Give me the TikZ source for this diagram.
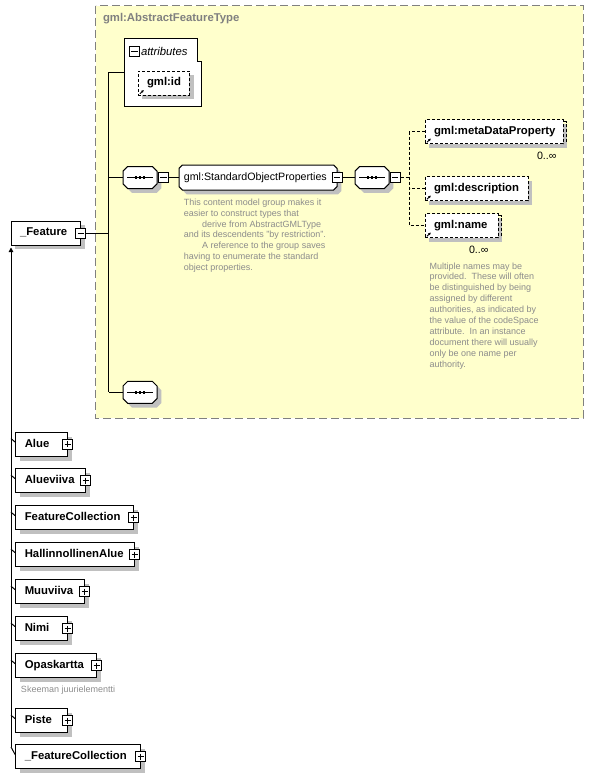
\documentclass[tikz,border=0pt]{standalone}
\usepackage{fontspec}
\setmainfont{Liberation Sans}
\usetikzlibrary{arrows.meta}

\definecolor{panel}{RGB}{255,255,204}
\definecolor{panelline}{RGB}{128,128,128}
\definecolor{notegray}{RGB}{140,140,140}
\definecolor{shadowgray}{RGB}{192,192,192}

\tikzset{
  shadowed/.style={preaction={fill=shadowgray, draw=none, transform canvas={shift={(3.3pt,-3.3pt)}}}},
  dotline/.style={dash pattern=on 2.25pt off 1.5pt},
  elem/.style={draw, fill=white, rectangle, anchor=north west, minimum height=18pt,
    inner xsep=6.75pt, inner ysep=0pt, text height=6.3pt, text depth=1.9pt, align=left,
    font=\bfseries\fontsize{8.5}{10}\selectfont, shadowed},
  optelem/.style={elem, dotline},
  pmbox/.style={draw, fill=white, rectangle, minimum size=7.5pt, inner sep=0pt},
  minusbox/.style={pmbox, path picture={
    \draw ([xshift=1.4pt]path picture bounding box.west) -- ([xshift=-1.4pt]path picture bounding box.east);}},
  plusbox/.style={pmbox, path picture={
    \draw ([xshift=1.4pt]path picture bounding box.west) -- ([xshift=-1.4pt]path picture bounding box.east);
    \draw ([yshift=-1.4pt]path picture bounding box.north) -- ([yshift=1.4pt]path picture bounding box.south);}},
  seqbox/.style={rectangle, minimum width=24.75pt, minimum height=15.75pt, inner sep=0pt},
  grpbox/.style={rectangle, anchor=west, minimum width=117.75pt, minimum height=18pt, inner sep=0pt},
  note/.style={anchor=north west, inner sep=0pt, align=left, text=notegray,
    font=\fontsize{6.75}{8.1}\selectfont},
  refarrow/.style={line width=0.6pt, -{Latex[length=2pt,width=2pt]}},
}

\begin{document}
\begin{tikzpicture}[x=0.75pt,y=-0.75pt,line width=0.75pt,font=\fontsize{8}{9.6}\selectfont]
\useasboundingbox (0,0) rectangle (594,778);

% complex type frame
\draw[panelline, fill=panel, dash pattern=on 6pt off 3pt] (95.5,5.5) rectangle (583,418);
\node[anchor=west, text=panelline, font=\bfseries\fontsize{8.5}{10}\selectfont, inner sep=0pt] (ftitle) at (102.5,19) {gml:AbstractFeatureType};

% attributes
\node[anchor=north west, minimum width=57.4pt, minimum height=50.25pt, inner sep=0pt] (attr) at (124,38.5) {};
\filldraw[fill=white] (attr.south west) |- ([xshift=-3pt]attr.north east) |- ([yshift=-17.25pt]attr.north east) -- (attr.south east) -- cycle;
\node[minusbox] (attr-m) at (134.5,51.5) {};
\node[anchor=west, font=\itshape\fontsize{8.5}{10}\selectfont, inner sep=0pt] (attr-t) at (140.5,51.5) {attributes};
\node[optelem, text width=25.1pt] (gmlid) at (137.5,70.5) {gml:id};
\draw[refarrow] ([shift={(1.8pt,1.2pt)}]gmlid.south west) -- ++(3pt,3pt);

% the element itself
\node[elem, text width=38.6pt] (feature) at (10.5,220.5) {\_Feature};
\node[minusbox] (feature-m) at (feature.east) {};

% content model
\node[seqbox] (seqa) at (140,177.5) {};
\node[seqbox] (seqb) at (372,177.5) {};
\node[seqbox] (seqc) at (140,392.3) {};
\foreach \s in {seqa,seqb,seqc} {
  \filldraw[fill=white, shadowed] ([xshift=3.5pt]\s.north west) -- ([xshift=-3.5pt]\s.north east)
    -- ([yshift=-3.5pt]\s.north east) -- ([yshift=3.5pt]\s.south east) -- ([xshift=-3.5pt]\s.south east)
    -- ([xshift=3.5pt]\s.south west) -- ([yshift=3.5pt]\s.south west) -- ([yshift=-3.5pt]\s.north west) -- cycle;
  \draw ([xshift=3pt]\s.west) -- ([xshift=-3pt]\s.east);
  \fill ([shift={(-4.1pt,-1.1pt)}]\s.center) rectangle ++(2.2pt,2.2pt);
  \fill ([shift={(-1.1pt,-1.1pt)}]\s.center) rectangle ++(2.2pt,2.2pt);
  \fill ([shift={(1.9pt,-1.1pt)}]\s.center) rectangle ++(2.2pt,2.2pt);
}
\node[minusbox, anchor=west] (seqa-m) at ([xshift=0.75pt]seqa.east) {};
\node[minusbox, anchor=west] (seqb-m) at ([xshift=0.5pt]seqb.east) {};

\node[grpbox] (sop) at (179,177.5) {};
\filldraw[fill=white, shadowed] ([xshift=2.5pt]sop.north west) -- ([xshift=-2.5pt]sop.north east)
  -- ([yshift=-2.5pt]sop.north east) -- ([yshift=2.5pt]sop.south east) -- ([xshift=-2.5pt]sop.south east)
  -- ([xshift=2.5pt]sop.south west) -- ([yshift=2.5pt]sop.south west) -- ([yshift=-2.5pt]sop.north west) -- cycle;
\node[anchor=west, inner sep=0pt, text height=6pt, text depth=1.8pt] (sop-t) at ([xshift=3.3pt]sop.west) {gml:StandardObjectProperties};
\node[minusbox] (sop-m) at (sop.east) {};
\node[note] (sop-note) at (183.3,198.5) {This content model group makes it\\
easier to construct types that\\
\hspace*{13.8pt}derive from AbstractGMLType\\
and its descendents "by restriction".\\
\hspace*{13.8pt}A reference to the group saves\\
having to enumerate the standard\\
object properties.};

\node[optelem, text width=90pt] (gmlmeta) at (424.5,119) {gml:metaDataProperty};
\draw[dotline] ([yshift=-2.2pt]gmlmeta.north east) -| ([shift={(2.2pt,2.2pt)}]gmlmeta.south east) -- ([yshift=2.2pt]gmlmeta.south east);
\draw[refarrow] ([shift={(1.8pt,1.2pt)}]gmlmeta.south west) -- ++(3pt,3pt);
\node[anchor=east, inner sep=0pt] (gmlmeta-n) at (557,156) {0..∞};
\node[optelem, text width=63.75pt] (gmldesc) at (424.5,176) {gml:description};
\draw[refarrow] ([shift={(1.8pt,1.2pt)}]gmldesc.south west) -- ++(3pt,3pt);
\node[optelem, text width=41.25pt] (gmlname) at (424.5,213) {gml:name};
\draw[dotline] ([yshift=-2.2pt]gmlname.north east) -| ([shift={(2.2pt,2.2pt)}]gmlname.south east) -- ([yshift=2.2pt]gmlname.south east);
\draw[refarrow] ([shift={(1.8pt,1.2pt)}]gmlname.south west) -- ++(3pt,3pt);
\node[anchor=east, inner sep=0pt] (gmlname-n) at (489,250) {0..∞};
\node[note, font=\fontsize{6.75}{8.2}\selectfont] (gmlname-note) at (429,262) {Multiple names may be\\
provided.\ \ These will often\\
be distinguished by being\\
assigned by different\\
authorities, as indicated by\\
the value of the codeSpace\\
attribute.\ \ In an instance\\
document there will usually\\
only be one name per\\
authority.};

% connectors inside the frame
\coordinate (spinetop) at (108.5,72);
\coordinate (spinebot) at (108.5,392.3);
\draw (spinetop) -- (spinebot);
\draw (spinetop) -- (spinetop -| attr.west);
\draw (feature-m.east) -- (feature-m.east -| spinetop);
\draw (seqa.west) -- (seqa.west -| spinetop);
\draw (seqc.west) -- (seqc.west -| spinetop);
\draw (seqa-m.east) -- (sop.west);
\draw (sop-m.east) -- (seqb.west);
\coordinate (fork) at (409.5,177.5);
\draw[dotline] (seqb-m.east) -- (fork);
\draw[dotline] (gmlmeta.west) -- (gmlmeta.west -| fork) -- (gmlname.west -| fork) -- (gmlname.west);
\draw[dotline] (gmldesc.west) -- (gmldesc.west -| fork);

% derived elements
\node[elem, text width=25.05pt] (alue) at (15.3,431.7) {Alue};
\node[plusbox] (alue-x) at (alue.east) {};
\node[elem, text width=38.55pt] (alueviiva) at (15.3,468.3) {Alueviiva};
\node[plusbox] (alueviiva-x) at (alueviiva.east) {};
\node[elem, text width=74.55pt] (featcoll) at (15.3,505.3) {FeatureCollection};
\node[plusbox] (featcoll-x) at (featcoll.east) {};
\node[elem, text width=75.3pt] (hallalue) at (15.3,542.3) {HallinnollinenAlue};
\node[plusbox] (hallalue-x) at (hallalue.east) {};
\node[elem, text width=37.8pt] (muuviiva) at (15.3,579.3) {Muuviiva};
\node[plusbox] (muuviiva-x) at (muuviiva.east) {};
\node[elem, text width=25.05pt] (nimi) at (15.3,616.3) {Nimi};
\node[plusbox] (nimi-x) at (nimi.east) {};
\node[elem, text width=46.8pt] (opaskartta) at (15.3,653.3) {Opaskartta};
\node[plusbox] (opaskartta-x) at (opaskartta.east) {};
\node[note, anchor=west] (opaskartta-note) at (20.5,690) {Skeeman juurielementti};
\node[elem, text width=25.05pt] (piste) at (15.3,708.3) {Piste};
\node[plusbox] (piste-x) at (piste.east) {};
\node[elem, text width=80pt] (fcoll) at (15.3,744.3) {\_FeatureCollection};
\node[plusbox] (fcoll-x) at (fcoll.east) {};

% substitution line
\coordinate (trunkend) at (11,747);
\coordinate (trunktop) at (11,247.5);
\draw[-{Triangle[length=3.5pt,width=3.5pt]}] (trunkend) -- (trunktop);
\draw (trunkend) -- ([yshift=1.5pt]fcoll.west);
\draw ([yshift=1.5pt]alue.west) -- ++(-3.2pt,2.7pt);
\draw ([yshift=1.5pt]alueviiva.west) -- ++(-3.2pt,2.7pt);
\draw ([yshift=1.5pt]featcoll.west) -- ++(-3.2pt,2.7pt);
\draw ([yshift=1.5pt]hallalue.west) -- ++(-3.2pt,2.7pt);
\draw ([yshift=1.5pt]muuviiva.west) -- ++(-3.2pt,2.7pt);
\draw ([yshift=1.5pt]nimi.west) -- ++(-3.2pt,2.7pt);
\draw ([yshift=1.5pt]opaskartta.west) -- ++(-3.2pt,2.7pt);
\draw ([yshift=1.5pt]piste.west) -- ++(-3.2pt,2.7pt);
\end{tikzpicture}
\end{document}
